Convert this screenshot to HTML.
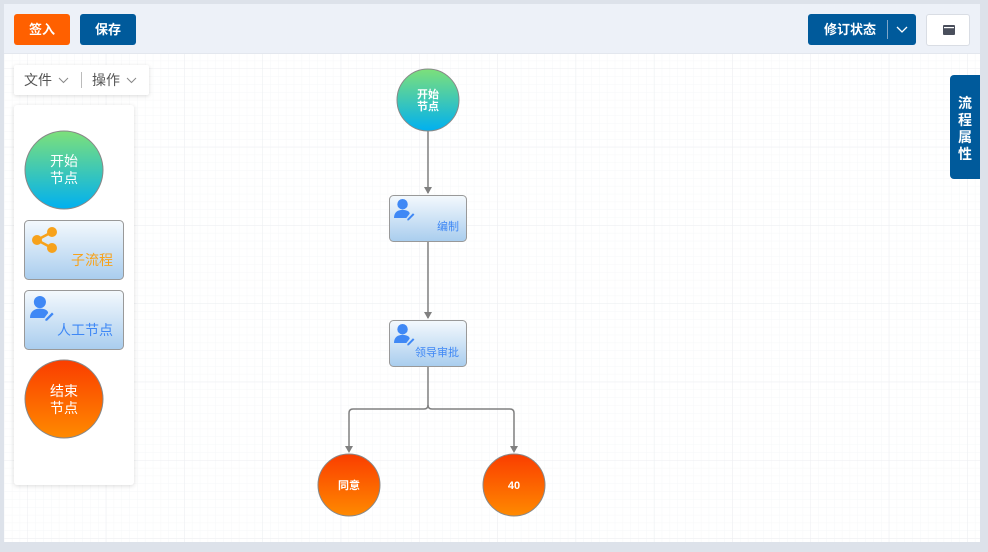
<!DOCTYPE html>
<html><head><meta charset="utf-8"><style>
*{margin:0;padding:0;box-sizing:border-box}
body{width:988px;height:552px;background:#dde2ea;position:relative;overflow:hidden;font-family:"Liberation Sans","Noto Sans CJK SC",sans-serif}
.abs{position:absolute}
.btn{position:absolute;color:#fff;font-size:13px;font-weight:bold;text-align:center;line-height:31px;border-radius:3px}
</style></head><body>
<div class="abs" style="left:4px;top:4px;width:976px;height:538px;background:#fff"></div>
<svg class="abs" style="left:4px;top:54px" width="976" height="488">
<defs>
<pattern id="mn" x="24" y="15" width="7.83" height="7.83" patternUnits="userSpaceOnUse"><path d="M7.83 0V7.83H0" fill="none" stroke="#f6f7f8" stroke-width="1"/></pattern>
<pattern id="mj" x="24" y="15" width="78.3" height="78.3" patternUnits="userSpaceOnUse"><path d="M78.3 0V78.3H0" fill="none" stroke="#eceef1" stroke-width="1"/></pattern>
</defs>
<rect width="976" height="488" fill="url(#mn)"/><rect width="976" height="488" fill="url(#mj)"/>
</svg>
<div class="abs" style="left:4px;top:4px;width:976px;height:50px;background:#edf1f8;border-bottom:1px solid #e3e7ee"></div>
<div class="btn" style="left:14px;top:14px;width:56px;background:#ff6000">签入</div>
<div class="btn" style="left:80px;top:14px;width:56px;background:#005a9b">保存</div>
<div class="btn" style="left:808px;top:14px;width:108px;background:#005a9b;text-align:left;padding-left:16px">修订状态<span style="position:absolute;left:79px;top:6px;width:1px;height:19px;background:#7fa6c8"></span><svg style="position:absolute;left:88px;top:12px" width="12" height="8"><path d="M1 1l5 5 5-5" fill="none" stroke="#fff" stroke-width="1.3"/></svg></div>
<div class="abs" style="left:926px;top:14px;width:44px;height:32px;background:#fff;border:1px solid #d9dde4;border-radius:3px"><svg class="abs" style="left:16px;top:10px" width="12" height="10"><rect width="12" height="10" rx="1" fill="#4a4f5c"/><rect x="1" y="2" width="10" height="1.2" fill="#fff"/></svg></div>
<div class="abs" style="left:950px;top:75px;width:30px;height:104px;background:#005a9b;border-radius:4px 0 0 4px;color:#fff;font-size:14px;font-weight:bold;line-height:17px;text-align:center;padding-top:20px">流<br>程<br>属<br>性</div>
<div class="abs" style="left:14px;top:65px;width:135px;height:30px;background:#fff;box-shadow:0 1px 4px rgba(0,0,0,.15);border-radius:2px;font-size:14px;color:#555;line-height:30px">
<span class="abs" style="left:10px">文件</span><svg class="abs" style="left:44px;top:12px" width="11" height="7"><path d="M1 1l4.5 4.5L10 1" fill="none" stroke="#888"/></svg>
<span class="abs" style="left:67px;top:7px;width:1px;height:16px;background:#bbb"></span>
<span class="abs" style="left:78px">操作</span><svg class="abs" style="left:112px;top:12px" width="11" height="7"><path d="M1 1l4.5 4.5L10 1" fill="none" stroke="#888"/></svg>
</div>
<div class="abs" style="left:14px;top:105px;width:120px;height:380px;background:#fff;box-shadow:0 1px 5px rgba(0,0,0,.15);border-radius:3px"></div>
<svg class="abs" style="left:0;top:0" width="988" height="552" font-family="Liberation Sans,Noto Sans CJK SC,sans-serif">
<defs>
<linearGradient id="g" x1="0" y1="0" x2="0" y2="1"><stop offset="0" stop-color="#7de07a"/><stop offset="1" stop-color="#00b0f0"/></linearGradient>
<linearGradient id="r" x1="0" y1="0" x2="0" y2="1"><stop offset="0" stop-color="#fa3d00"/><stop offset="1" stop-color="#ff8a00"/></linearGradient>
<linearGradient id="b" x1="0" y1="0" x2="0" y2="1"><stop offset="0" stop-color="#f4f9fd"/><stop offset="1" stop-color="#a9cdee"/></linearGradient>
<g id="user"><circle cx="9" cy="5.5" r="5.5" fill="#3f88f5"/><path d="M0 20c0-6 4-8.5 9-8.5s7.5 2 7.5 4l-3.5 4.5z" fill="#3f88f5"/><path d="M14 21l6-6 1.5 1.5-6 6h-1.5z" fill="#3f88f5"/></g>
</defs>
<circle cx="64" cy="170" r="39" fill="url(#g)" stroke="#888"/>
<text x="64" y="166" fill="#fff" font-size="14" text-anchor="middle">开始</text><text x="64" y="183" fill="#fff" font-size="14" text-anchor="middle">节点</text>
<rect x="24.5" y="220.5" width="99" height="59" rx="4" fill="url(#b)" stroke="#999"/>
<circle cx="52" cy="232" r="5" fill="#f7a21b"/><circle cx="37" cy="240" r="5" fill="#f7a21b"/><circle cx="52" cy="248" r="5" fill="#f7a21b"/>
<path d="M52 232L37 240L52 248" fill="none" stroke="#f7a21b" stroke-width="2.5"/>
<text x="113" y="265" fill="#f7a21b" font-size="14" text-anchor="end">子流程</text>
<rect x="24.5" y="290.5" width="99" height="59" rx="4" fill="url(#b)" stroke="#999"/>
<use href="#user" transform="translate(30,296) scale(1.1)"/>
<text x="113" y="335" fill="#3f88f5" font-size="14" text-anchor="end">人工节点</text>
<circle cx="64" cy="399" r="39" fill="url(#r)" stroke="#888"/>
<text x="64" y="396" fill="#fff" font-size="14" text-anchor="middle">结束</text><text x="64" y="413" fill="#fff" font-size="14" text-anchor="middle">节点</text>
<g stroke="#808080" stroke-width="1.5" fill="none">
<path d="M428 131V193"/><path d="M428 241V318"/>
<path d="M428 366V405q0 4-4 4H353q-4 0-4 4V451"/><path d="M428 405q0 4 4 4H510q4 0 4 4V451"/>
</g>
<g fill="#808080"><path d="M424 187l4 7 4-7z"/><path d="M424 312l4 7 4-7z"/><path d="M345 446l4 7 4-7z"/><path d="M510 446l4 7 4-7z"/></g>
<circle cx="428" cy="100" r="31" fill="url(#g)" stroke="#888"/>
<text x="428" y="98" fill="#fff" font-size="11" font-weight="bold" text-anchor="middle">开始</text><text x="428" y="110" fill="#fff" font-size="11" font-weight="bold" text-anchor="middle">节点</text>
<rect x="389.5" y="195.5" width="77" height="46" rx="4" fill="url(#b)" stroke="#999"/>
<use href="#user" transform="translate(394,199) scale(0.95)"/>
<text x="459" y="230" fill="#3f88f5" font-size="11" text-anchor="end">编制</text>
<rect x="389.5" y="320.5" width="77" height="46" rx="4" fill="url(#b)" stroke="#999"/>
<use href="#user" transform="translate(394,324) scale(0.95)"/>
<text x="459" y="356" fill="#3f88f5" font-size="11" text-anchor="end">领导审批</text>
<circle cx="349" cy="485" r="31" fill="url(#r)" stroke="#888"/>
<text x="349" y="489" fill="#fff" font-size="11" font-weight="bold" text-anchor="middle">同意</text>
<circle cx="514" cy="485" r="31" fill="url(#r)" stroke="#888"/>
<text x="514" y="489" fill="#fff" font-size="11" font-weight="bold" text-anchor="middle">40</text>
</svg>
</body></html>
